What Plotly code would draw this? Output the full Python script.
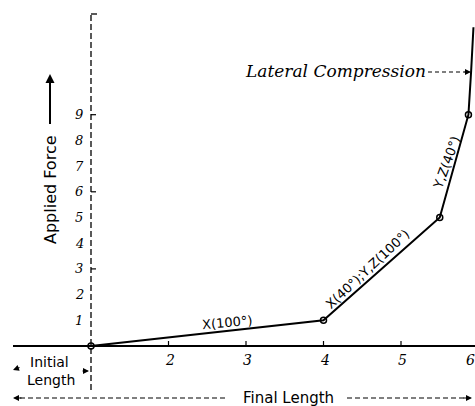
import plotly.graph_objects as go

# Data
curve_x = [1, 2, 3, 4, 5.5, 5.87, 5.905, 5.935]
curve_y = [0, 0.33, 0.65, 1, 5, 9, 10.7, 12.4]
node_x = [1, 4, 5.5, 5.87]
node_y = [0, 1, 5, 9]
ytick_vals = [1, 2, 3, 4, 5, 6, 7, 8, 9]
ytick_text = ["1", "2", "3", "4", "5", "6", "7", "8", "9"]
xtick_vals = [2, 3, 4, 5, 6]
xtick_text = ["2", "3", "4", "5", "6"]
ymajor_ticks = [3, 6, 9]

W, H = 475, 406
PXU, PYU = 77.5, 25.7      # pixels per unit
OX, OY = 91, 346           # pixel of (1, 0)
X0 = 1 - OX / PXU
X1 = 1 + (W - OX) / PXU
Y1 = OY / PYU
Y0 = -(H - OY) / PYU


def px(p):
    return 1 + (p - OX) / PXU


def py(p):
    return (OY - p) / PYU


fig = go.Figure()

# Curve
fig.add_trace(go.Scatter(x=curve_x, y=curve_y, mode="lines",
                         line=dict(color="black", width=2), hoverinfo="skip"))
fig.add_trace(go.Scatter(x=node_x, y=node_y, mode="markers",
                         marker=dict(symbol="circle-open", size=6, color="black",
                                     line=dict(width=1.5, color="black")),
                         hoverinfo="skip"))

shapes = []
# x axis (solid)
shapes.append(dict(type="line", x0=px(13), x1=X1, y0=0, y1=0,
                   line=dict(color="black", width=1.8)))
# y axis (dashed)
shapes.append(dict(type="line", x0=1, x1=1, y0=py(390), y1=py(14),
                   line=dict(color="black", width=1.3, dash="6px,3px")))
# top hook
shapes.append(dict(type="line", x0=1, x1=px(97), y0=py(14), y1=py(14),
                   line=dict(color="black", width=1.3)))
# y major ticks
for v in ymajor_ticks:
    shapes.append(dict(type="line", x0=1, x1=px(96), y0=v, y1=v,
                       line=dict(color="black", width=1.2)))
# x ticks
for v in xtick_vals:
    shapes.append(dict(type="line", x0=v, x1=v, y0=0, y1=py(341),
                       line=dict(color="black", width=1.2)))
# Applied Force arrow shaft
shapes.append(dict(type="line", x0=px(50), x1=px(50), y0=py(124), y1=py(82),
                   line=dict(color="black", width=2)))
# Final length dashed line
shapes.append(dict(type="line", x0=px(20), x1=px(228), y0=py(398), y1=py(398),
                   line=dict(color="black", width=1.2, dash="5px,3px")))
shapes.append(dict(type="line", x0=px(347), x1=px(465), y0=py(398), y1=py(398),
                   line=dict(color="black", width=1.2, dash="5px,3px")))
# Lateral compression dashed line
shapes.append(dict(type="line", x0=px(428), x1=px(465), y0=py(72), y1=py(72),
                   line=dict(color="black", width=1.2, dash="4px,3px")))

ann = []
serif = "DejaVu Serif"
sans = "DejaVu Sans"
# y tick labels
for v, t in zip(ytick_vals, ytick_text):
    ann.append(dict(x=px(79), y=v, text="<i>" + t + "</i>", showarrow=False,
                    font=dict(family=serif, size=13, color="black"),
                    xanchor="center", yanchor="middle"))
# x tick labels (last one sits at the right edge, nudged inside)
for v, t in zip(xtick_vals, xtick_text):
    shift = -8.0 if v == xtick_vals[-1] else 1.0
    ann.append(dict(x=v + shift / PXU, y=py(360), text="<i>" + t + "</i>",
                    showarrow=False,
                    font=dict(family=serif, size=14, color="black"),
                    xanchor="center", yanchor="middle"))

ann.append(dict(x=px(50), y=py(190), text="Applied Force",
                textangle=-90, showarrow=False,
                font=dict(family=sans, size=16, color="black")))
# arrow head for applied force
ann.append(dict(x=px(50), y=py(74), ax=0, ay=30,
                showarrow=True, arrowhead=2, arrowsize=1.2, arrowwidth=1.5,
                arrowcolor="black", text=""))
ann.append(dict(x=px(288), y=py(398), text="Final Length", showarrow=False,
                font=dict(family=sans, size=15, color="black")))
ann.append(dict(x=px(49), y=py(362), text="Initial", showarrow=False,
                font=dict(family=sans, size=14, color="black")))
ann.append(dict(x=px(51), y=py(380), text="Length", showarrow=False,
                font=dict(family=sans, size=14, color="black")))
# arrowheads
ann.append(dict(x=px(13), y=py(398), ax=10, ay=0, showarrow=True,
                arrowhead=2, arrowsize=1, arrowwidth=1.2, arrowcolor="black", text=""))
ann.append(dict(x=px(472), y=py(398), ax=-10, ay=0, showarrow=True,
                arrowhead=2, arrowsize=1, arrowwidth=1.2, arrowcolor="black", text=""))
ann.append(dict(x=px(13), y=py(370), ax=8, ay=-3, showarrow=True,
                arrowhead=2, arrowsize=1, arrowwidth=1.2, arrowcolor="black", text=""))
ann.append(dict(x=px(89), y=py(371), ax=-8, ay=0, showarrow=True,
                arrowhead=2, arrowsize=1, arrowwidth=1.2, arrowcolor="black", text=""))
ann.append(dict(x=px(471), y=py(72), ax=-8, ay=0, showarrow=True,
                arrowhead=2, arrowsize=1, arrowwidth=1.2, arrowcolor="black", text=""))
ann.append(dict(x=px(335), y=py(71), text="<i>Lateral Compression</i>",
                showarrow=False, font=dict(family=serif, size=17, color="black")))
ann.append(dict(x=px(227), y=py(322), text="X(100°)", textangle=-5,
                showarrow=False, font=dict(family=sans, size=13, color="black")))
ann.append(dict(x=px(367), y=py(269), text="X(40°);Y,Z(100°)",
                textangle=-43, showarrow=False,
                font=dict(family=sans, size=13, color="black")))
ann.append(dict(x=px(446), y=py(163), text="Y,Z(40°)",
                textangle=-70, showarrow=False,
                font=dict(family=sans, size=13, color="black")))

fig.update_layout(
    width=W, height=H,
    margin=dict(l=0, r=0, t=0, b=0),
    paper_bgcolor="white", plot_bgcolor="white",
    showlegend=False,
    xaxis=dict(range=[X0, X1], visible=False, fixedrange=True),
    yaxis=dict(range=[Y0, Y1], visible=False, fixedrange=True),
    shapes=shapes, annotations=ann,
)

fig.write_html("out.html", config={"displayModeBar": False},
               post_script="document.body.style.margin='0';document.body.style.padding='0';")
